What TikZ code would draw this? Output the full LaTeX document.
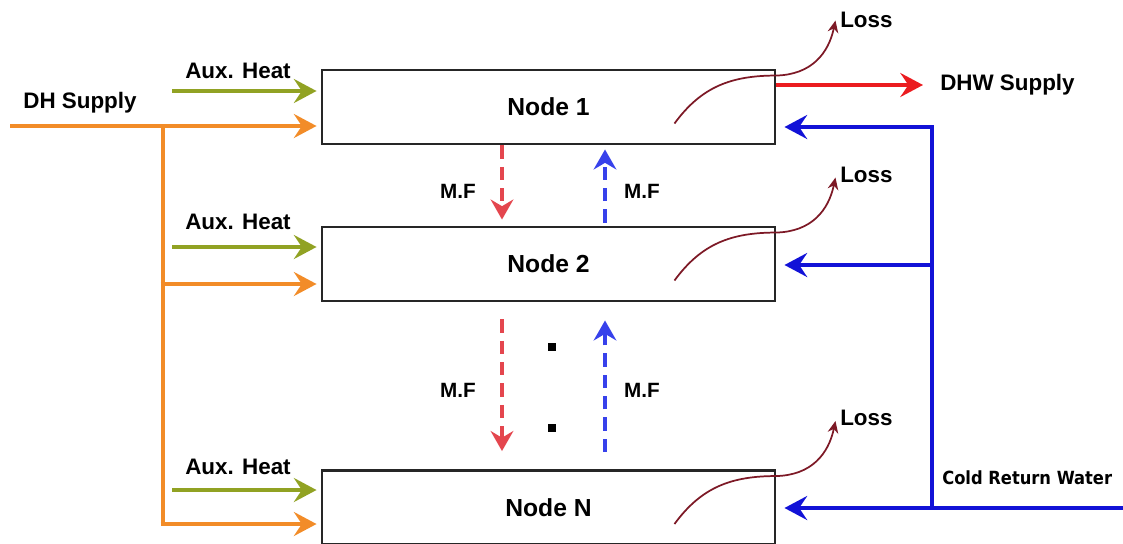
\documentclass[tikz,border=0pt]{standalone}
\usepackage{fontspec}
\setmainfont{Liberation Sans}
\newfontfamily\crwfont{DejaVu Sans Condensed}
\usetikzlibrary{arrows.meta,calc}

\definecolor{dhorange}{RGB}{242,140,40}
\definecolor{auxgreen}{RGB}{145,162,35}
\definecolor{dhwred}{RGB}{235,28,32}
\definecolor{mfred}{RGB}{228,70,78}
\definecolor{retblue}{RGB}{18,18,215}
\definecolor{mfblue}{RGB}{55,65,235}
\definecolor{lossred}{RGB}{125,25,38}

\def\pxu{0.75pt}

\tikzset{
  stagebox/.style={draw=black!85, line width=2.2pt, fill=white,
    minimum width=453*\pxu, minimum height=74*\pxu, inner sep=0pt,
    font=\bfseries\fontsize{18.5}{20}\selectfont},
  bigtip/.style={-{Stealth[length=17pt,width=18pt,inset=6pt]}},
  supply/.style={bigtip, draw=dhorange, line width=3.4pt, shorten >=4*\pxu},
  auxflow/.style={bigtip, draw=auxgreen, line width=3.4pt, shorten >=4*\pxu},
  dhwflow/.style={bigtip, draw=dhwred, line width=3.6pt},
  retflow/.style={bigtip, draw=retblue, line width=3.4pt, shorten >=8*\pxu},
  mfdown/.style={-{Stealth[length=15pt,width=17pt,inset=5pt]}, draw=mfred,
    line width=3pt, dash pattern=on 10pt off 6pt},
  mfup/.style={-{Stealth[length=15pt,width=17pt,inset=5pt]}, draw=mfblue,
    line width=3pt, dash pattern=on 10pt off 6pt},
  lossflow/.style={-{Stealth[length=9pt,width=8pt]}, draw=lossred, line width=1.3pt},
  lbl/.style={font=\bfseries\fontsize{16.8}{18}\selectfont, inner sep=0pt},
  mflbl/.style={font=\bfseries\fontsize{15.5}{17}\selectfont, inner sep=0pt},
  dot/.style={fill=black, minimum size=8*\pxu, inner sep=0pt},
}

\begin{document}
\begin{tikzpicture}[x=0.75pt, y=-0.75pt]
\useasboundingbox (0,0) rectangle (1123,543);
\clip (0,0) rectangle (1123,543);

% storage nodes
\node[stagebox] (n1) at (548.5,107) {Node 1};
\node[stagebox] (n2) at (548.5,264) {Node 2};
\node[stagebox] (nN) at (548.5,507.5) {Node N};

% district heating supply and its branches
\coordinate (dhin) at (10,126);
\coordinate (j1) at (163,126);
\coordinate (j2) at (163,284);
\coordinate (j3) at (163,524);
\draw[draw=dhorange, line width=3.4pt] (j1) -- (j3);
\draw[supply] (dhin) -- (dhin -| n1.west);
\draw[supply] ([xshift=-1.7pt]j2) -- (j2 -| n2.west);
\draw[supply] ([xshift=-1.7pt]j3) -- (j3 -| nN.west);
\node[lbl] (dhlbl) at (80,103) {DH Supply};

% auxiliary heat inputs
\coordinate (a1) at (172,91);
\coordinate (a2) at (172,247);
\coordinate (a3) at (172,490);
\draw[auxflow] (a1) -- (a1 -| n1.west);
\draw[auxflow] (a2) -- (a2 -| n2.west);
\draw[auxflow] (a3) -- (a3 -| nN.west);
\node[lbl] (aux1) at (238,71) {Aux. Heat};
\node[lbl] (aux2) at (238,222) {Aux. Heat};
\node[lbl] (aux3) at (238,467) {Aux. Heat};

% domestic hot water supply
\coordinate (dhwout) at (923,85);
\draw[dhwflow] (dhwout -| n1.east) -- (dhwout);
\node[lbl, anchor=west] (dhwlbl) at (940,85) {DHW Supply};

% cold return water
\coordinate (r1) at (932,127);
\coordinate (r2) at (932,265);
\coordinate (r3) at (932,508);
\coordinate (rin) at (1130,508);
\draw[retflow] (r3) -- (r1) -- (r1 -| n1.east);
\draw[retflow] (r2) -- (r2 -| n2.east);
\draw[retflow] (rin) -- (rin -| nN.east);
\node[font=\crwfont\bfseries\fontsize{13.6}{15}\selectfont, inner sep=0pt, anchor=west]
  (crw) at (942,478) {Cold Return Water};

% heat losses
\foreach \n in {n1,n2,nN}{
  \draw[lossflow] ($(\n.north east)+(-102,55)$)
     .. controls ($(\n.north east)+(-75,18)$) and ($(\n.north east)+(-45,7)$)
     .. ($(\n.north east)+(0,7)$)
     .. controls ($(\n.north east)+(35,6)$) and ($(\n.north east)+(52,-15)$)
     .. ($(\n.north east)+(59,-48)$);
}
\node[lbl, anchor=west] (loss1) at (840,20) {Loss};
\node[lbl, anchor=west] (loss2) at (840,175) {Loss};
\node[lbl, anchor=west] (loss3) at (840,418) {Loss};

% mass flows between nodes
\draw[mfdown, shorten >=6*\pxu] ([xshift=-46.5*\pxu]n1.south) -- ([xshift=-46.5*\pxu]n2.north);
\draw[mfup, shorten >=4*\pxu, shorten <=3*\pxu] ([xshift=56.5*\pxu]n2.north) -- ([xshift=56.5*\pxu]n1.south);
\draw[mfdown, shorten <=17*\pxu, shorten >=18*\pxu] ([xshift=-46.5*\pxu]n2.south) -- ([xshift=-46.5*\pxu]nN.north);
\draw[mfup, shorten <=17*\pxu, shorten >=18*\pxu] ([xshift=56.5*\pxu]nN.north) -- ([xshift=56.5*\pxu]n2.south);
\node[mflbl] (mf1) at (458,191) {M.F};
\node[mflbl] (mf2) at (642,191) {M.F};
\node[mflbl] (mf3) at (458,390) {M.F};
\node[mflbl] (mf4) at (642,390) {M.F};

% ellipsis between node 2 and node N
\node[dot] (d1) at (552,347) {};
\node[dot] (d2) at (552,428) {};
\end{tikzpicture}
\end{document}
